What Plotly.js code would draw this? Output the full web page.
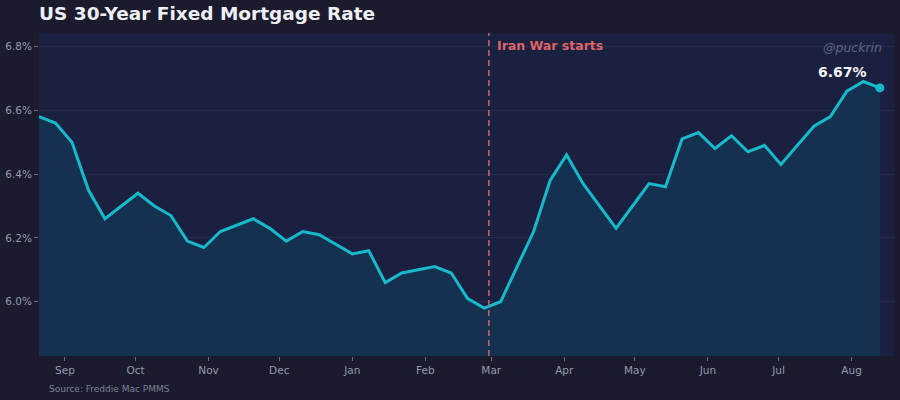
<!DOCTYPE html>
<html>
<head>
<meta charset="utf-8">
<script src="https://cdn.plot.ly/plotly-3.0.1.min.js"></script>
<style>
  html, body { margin: 0; padding: 0; background: #1b1b2d; }
  #chart { width: 900px; height: 400px; }
</style>
</head>
<body>
<div id="chart"></div>
<script>
const weekDates = [
  "2025-08-21","2025-08-28","2025-09-04","2025-09-11","2025-09-18","2025-09-25",
  "2025-10-02","2025-10-09","2025-10-16","2025-10-23","2025-10-30",
  "2025-11-06","2025-11-13","2025-11-20","2025-11-27",
  "2025-12-04","2025-12-11","2025-12-18","2025-12-25",
  "2026-01-01","2026-01-08","2026-01-15","2026-01-22","2026-01-29",
  "2026-02-05","2026-02-12","2026-02-19","2026-02-26",
  "2026-03-05","2026-03-12","2026-03-19","2026-03-26",
  "2026-04-02","2026-04-09","2026-04-16","2026-04-23","2026-04-30",
  "2026-05-07","2026-05-14","2026-05-21","2026-05-28",
  "2026-06-04","2026-06-11","2026-06-18","2026-06-25",
  "2026-07-02","2026-07-09","2026-07-16","2026-07-23","2026-07-30",
  "2026-08-06","2026-08-13"
];
const rates = [
  6.58, 6.56, 6.50, 6.35, 6.26, 6.30,
  6.34, 6.30, 6.27, 6.19, 6.17,
  6.22, 6.24, 6.26, 6.23,
  6.19, 6.22, 6.21, 6.18,
  6.15, 6.16, 6.06, 6.09, 6.10,
  6.11, 6.09, 6.01, 5.98,
  6.00, 6.11, 6.22, 6.38,
  6.46, 6.37, 6.30, 6.23, 6.30,
  6.37, 6.36, 6.51, 6.53,
  6.48, 6.52, 6.47, 6.49,
  6.43, 6.49, 6.55, 6.58, 6.66,
  6.69, 6.67
];
const yTickVals = [6.0, 6.2, 6.4, 6.6, 6.8];
const yTickText = ["6.0%", "6.2%", "6.4%", "6.6%", "6.8%"];
const eventDate = "2026-02-28";
const eventLabel = "Iran War starts";
const titleText = "US 30-Year Fixed Mortgage Rate";
const sourceText = "Source: Freddie Mac PMMS";
const handleText = "@puckrin";

const lastDate = weekDates[weekDates.length - 1];
const lastRate = rates[rates.length - 1];

const traces = [
  {
    x: weekDates, y: rates, type: "scatter", mode: "lines",
    line: { color: "#17b9ca", width: 3 },
    fill: "tozeroy", fillcolor: "#14324f",
    hoverinfo: "skip"
  },
  {
    x: [lastDate], y: [lastRate], type: "scatter", mode: "markers",
    marker: { color: "#17b9ca", size: 9 },
    hoverinfo: "skip"
  }
];

const layout = {
  width: 900, height: 400,
  paper_bgcolor: "#1b1b2d",
  plot_bgcolor: "#1a2140",
  showlegend: false,
  font: { family: "DejaVu Sans", color: "#9499ad", size: 10.5 },
  margin: { l: 39, r: 6, t: 33, b: 44, pad: 0 },
  title: {
    text: "<b>" + titleText + "</b>",
    font: { family: "DejaVu Sans", size: 18.5, color: "#eef0f6" },
    xref: "container", yref: "container",
    x: 39 / 900, xanchor: "left",
    y: 1 - 14 / 400, yanchor: "middle"
  },
  xaxis: {
    type: "date",
    range: ["2025-08-21", "2026-08-19"],
    tickformat: "%b",
    dtick: "M1",
    tick0: "2025-09-01",
    ticks: "outside", ticklen: 4, tickcolor: "#6a6f88", tickwidth: 1,
    showgrid: false, zeroline: false, showline: false,
    tickfont: { size: 10.5, color: "#9499ad" }
  },
  yaxis: {
    range: [5.830, 6.842],
    tickvals: yTickVals, ticktext: yTickText,
    ticks: "outside", ticklen: 4, tickcolor: "#6a6f88", tickwidth: 1,
    showgrid: true, gridcolor: "#242c4b", gridwidth: 1,
    zeroline: false, showline: false,
    tickfont: { size: 10.5, color: "#9499ad" }
  },
  shapes: [
    {
      type: "line", xref: "x", yref: "paper",
      x0: eventDate, x1: eventDate, y0: 0, y1: 1,
      line: { color: "#c55f6c", width: 1.6, dash: "6px,4px" }
    }
  ],
  annotations: [
    {
      text: "<b>" + eventLabel + "</b>",
      xref: "x", yref: "y", x: eventDate, y: 6.803,
      xanchor: "left", yanchor: "middle", xshift: 6,
      showarrow: false,
      font: { family: "DejaVu Sans", size: 12.5, color: "#de6468" }
    },
    {
      text: "<b>" + lastRate.toFixed(2) + "%</b>",
      xref: "x", yref: "y", x: lastDate, y: lastRate,
      xanchor: "center", yanchor: "middle", xshift: -37.5, yshift: 16,
      showarrow: false,
      font: { family: "DejaVu Sans", size: 14, color: "#f2f3f7" }
    },
    {
      text: "<i>" + handleText + "</i>",
      xref: "paper", yref: "paper", x: (884 - 39) / 855, y: (356 - 48) / 322.7,
      xanchor: "right", yanchor: "middle",
      showarrow: false,
      font: { family: "DejaVu Sans", size: 12.5, color: "#5d6682" }
    },
    {
      text: sourceText,
      xref: "paper", yref: "paper", x: (47 - 39) / 855, y: (356 - 389) / 322.7,
      xanchor: "left", yanchor: "middle",
      showarrow: false,
      font: { family: "DejaVu Sans", size: 9, color: "#7c8299" }
    }
  ]
};

Plotly.newPlot("chart", traces, layout, { staticPlot: true, displayModeBar: false });
</script>
</body>
</html>
